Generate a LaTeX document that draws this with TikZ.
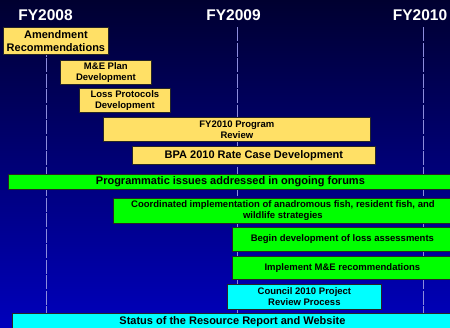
\documentclass[tikz,border=0pt]{standalone}
\usepackage{fontspec}
\setmainfont{Liberation Sans}
\usepackage{xcolor}

\definecolor{fondoarriba}{RGB}{0,0,48}
\definecolor{fondomedio}{RGB}{0,0,160}
\definecolor{fondoabajo}{RGB}{0,0,188}
\definecolor{amarillo}{RGB}{255,224,102}
\definecolor{verde}{RGB}{0,255,0}
\definecolor{cian}{RGB}{0,255,255}
\definecolor{guia}{RGB}{140,140,220}

\begin{document}
\begin{tikzpicture}[
				x=1pt, y=-1pt, % Coordenadas en puntos, y hacia abajo
				% --- Estilos ---
				barra/.style={
					draw=black!85,
					line width=0.8pt,
					rectangle,
					anchor=north west,
					inner sep=1pt,
					align=center,
					text=black,
					font=\bfseries\fontsize{9.5}{11}\selectfont
				},
				tarea/.style={barra, fill=amarillo},
				foro/.style={barra, fill=verde},
				informe/.style={barra, fill=cian},
				grande/.style={font=\bfseries\fontsize{11}{13.5}\selectfont},
				anio/.style={
					text=white,
					font=\bfseries\fontsize{15.5}{18}\selectfont
				},
				linea_guia/.style={
					draw=guia,
					line width=0.9pt,
					dash pattern=on 14pt off 1.5pt
				}
				]
				% 1. Fondo degradado
				\useasboundingbox (0,0) rectangle (450,327);
				\shade[top color=fondoarriba, middle color=fondomedio, bottom color=fondoabajo]
				(0,0) rectangle (450,327);
				
				% 2. Años y líneas guía
				\node[anio] (fy08) at (45.5,15) {FY2008};
				\node[anio] (fy09) at (233.5,15) {FY2009};
				\node[anio] (fy10) at (420,15) {FY2010};
				\foreach \x in {46, 237, 423} {
					\draw[linea_guia] (\x,27) -- (\x,327);
				}
				
				% 3. Tareas (amarillo)
				\node[tarea, grande, minimum width=105, minimum height=27] (enmienda) at (3,27) {Amendment\\Recommendations};
				\node[tarea, minimum width=91, minimum height=24] (plan_me) at (60,60) {M\&E Plan\\Development};
				\node[tarea, minimum width=91, minimum height=24] (protocolos) at (79,88) {Loss Protocols\\Development};
				\node[tarea, minimum width=267, minimum height=24] (revision) at (103,117) {FY2010 Program\\Review};
				\node[tarea, grande, minimum width=243, minimum height=18] (tarifa) at (132,146) {BPA 2010 Rate Case Development};
				
				% 4. Foros y seguimiento (verde)
				\node[foro, grande, minimum width=444, minimum height=15] (foros) at (8,174) {Programmatic issues addressed in ongoing forums};
				\node[foro, minimum width=339, minimum height=25] (coordinacion) at (113,198) {Coordinated implementation of anadromous fish, resident fish, and\\wildlife strategies};
				\node[foro, minimum width=220, minimum height=24] (evaluacion) at (232,227) {Begin development of loss assessments};
				\node[foro, minimum width=220, minimum height=23] (recomendaciones) at (232,256) {Implement M\&E recommendations};
				
				% 5. Informes (cian)
				\node[informe, minimum width=154, minimum height=25] (consejo) at (227,284) {Council 2010 Project\\Review Process};
				\node[informe, grande, minimum width=440, minimum height=16] (estado) at (12,313) {Status of the Resource Report and Website};
				
			\end{tikzpicture}
\end{document}
